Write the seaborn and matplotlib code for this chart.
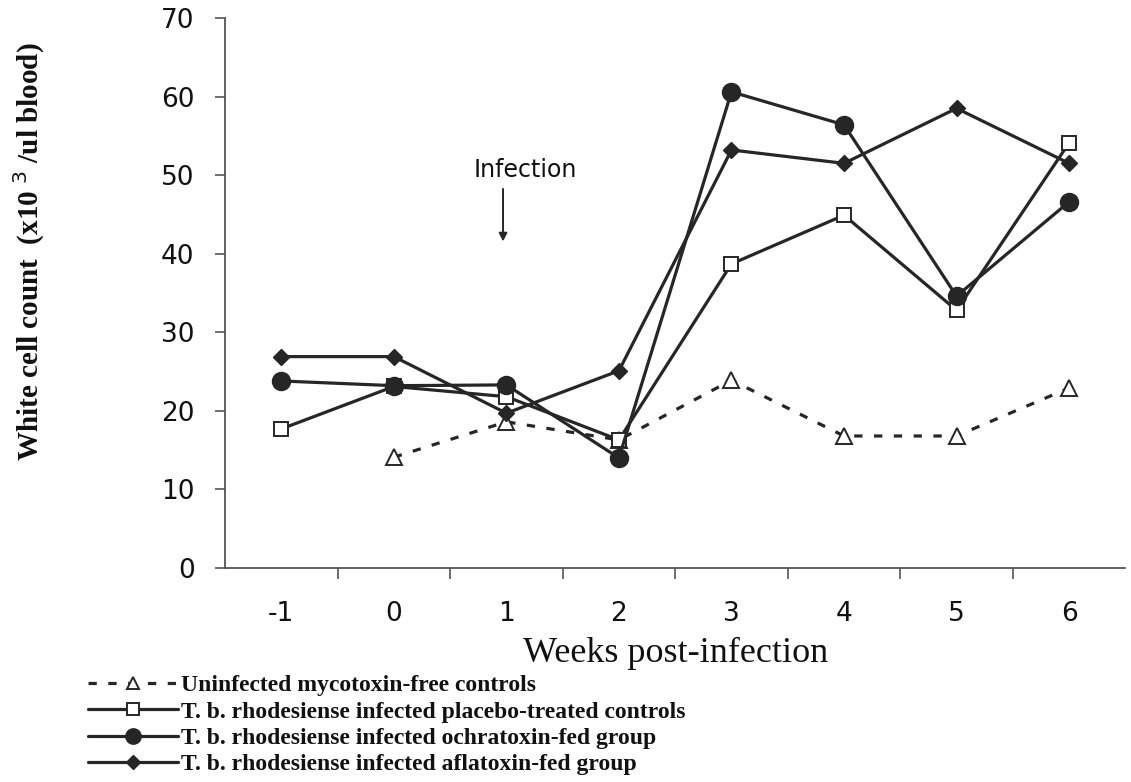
import matplotlib
matplotlib.use("Agg")
import matplotlib.pyplot as plt
import seaborn as sns
import pandas as pd
from matplotlib.lines import Line2D

sns.set_theme(style="white")
plt.rcParams['font.family'] = ['DejaVu Sans']

# ---- data ----
weeks = [-1, 0, 1, 2, 3, 4, 5, 6]
week_labels = ["-1", "0", "1", "2", "3", "4", "5", "6"]
uninfected = [None, 14.1, 18.6, 16.3, 23.9, 16.8, 16.8, 22.9]
placebo = [17.7, 23.1, 21.8, 16.3, 38.7, 44.9, 32.8, 54.1]
ochratoxin = [23.8, 23.2, 23.3, 14.0, 60.6, 56.4, 34.6, 46.6]
aflatoxin = [26.9, 26.9, 19.7, 25.1, 53.2, 51.5, 58.5, 51.5]
series_names = [
    "Uninfected mycotoxin-free controls",
    "T. b. rhodesiense infected placebo-treated controls",
    "T. b. rhodesiense infected ochratoxin-fed group",
    "T. b. rhodesiense infected aflatoxin-fed group",
]
y_ticks = [0, 10, 20, 30, 40, 50, 60, 70]

ink = "#262626"
lw = 2.3

fig = plt.figure(figsize=(11.31, 7.82), dpi=100)
ax = fig.add_axes([0.199, 0.2737, 0.796, 0.7033])

styles = [
    dict(marker="^", ms=11, mfc="white", mec=ink, mew=1.4, ls=(0, (2.6, 3.6))),
    dict(marker="s", ms=10, mfc="white", mec=ink, mew=1.4, ls="-"),
    dict(marker="o", ms=13, mfc=ink, mec=ink, mew=1, ls="-"),
    dict(marker="D", ms=8, mfc=ink, mec=ink, mew=1, ls="-"),
]
datas = [uninfected, placebo, ochratoxin, aflatoxin]
handles = []
for name, vals, st in zip(series_names, datas, styles):
    df = pd.DataFrame({"week": weeks, "value": vals}).dropna()
    sns.lineplot(data=df, x="week", y="value", ax=ax, color=ink, linewidth=lw,
                 linestyle=st["ls"], marker=st["marker"], markersize=st["ms"],
                 markerfacecolor=st["mfc"], markeredgecolor=st["mec"],
                 markeredgewidth=st["mew"], zorder=3)
    handles.append(Line2D([], [], color=ink, lw=lw, linestyle=st["ls"], marker=st["marker"],
                          markersize=st["ms"] * 0.85, markerfacecolor=st["mfc"],
                          markeredgecolor=st["mec"], markeredgewidth=st["mew"]))

ax.set_xlim(-1.5, 6.5)
ax.set_ylim(0, 70)
ax.set_yticks(y_ticks)
ax.set_yticklabels([str(t) for t in y_ticks], fontsize=19)
ax.set_xticks([w + 0.5 for w in weeks[:-1]])
ax.set_xticklabels([])
ax.set_xticks(weeks, minor=True)
ax.set_xticklabels(week_labels, minor=True, fontsize=19)
ax.tick_params(axis="x", which="major", bottom=True, length=8, width=1.2,
               color="#555555", direction="out")
ax.tick_params(axis="x", which="minor", bottom=True, length=0, pad=24, labelcolor="#111111")
ax.tick_params(axis="y", left=True, length=7, width=1.2, color="#555555", direction="out",
               pad=15, labelcolor="#111111")
for s in ["top", "right"]:
    ax.spines[s].set_visible(False)
for s in ["left", "bottom"]:
    ax.spines[s].set_color("#555555")
    ax.spines[s].set_linewidth(1.3)

ax.set_xlabel("Weeks post-infection", fontsize=26, family=["Liberation Serif"],
              color="#111111")
ax.xaxis.set_label_coords(0.5, -0.125)
ax.set_ylabel("White cell count  (x10 $^{3}$ /ul blood)", fontsize=21, fontweight="bold",
              family=["Liberation Serif"], color="#111111")
ax.yaxis.set_label_coords(-0.198, 0.575)

ax.text(1.17, 50.6, "Infection", fontsize=17, ha="center", va="center", color="#111111")
ax.annotate("", xy=(0.97, 41.2), xytext=(0.97, 48.6),
            arrowprops=dict(arrowstyle="-|>", color=ink, lw=1.4, mutation_scale=12))

leg = fig.legend(handles, series_names, loc="upper left", bbox_to_anchor=(0.078, 0.137),
                 frameon=False, handlelength=3.8, handletextpad=0.12, labelspacing=0.2,
                 borderpad=0, borderaxespad=0,
                 prop=dict(family="Liberation Serif", weight="bold", size=17))
for t in leg.get_texts():
    t.set_color("#111111")

fig.savefig("out.png", dpi=100)
